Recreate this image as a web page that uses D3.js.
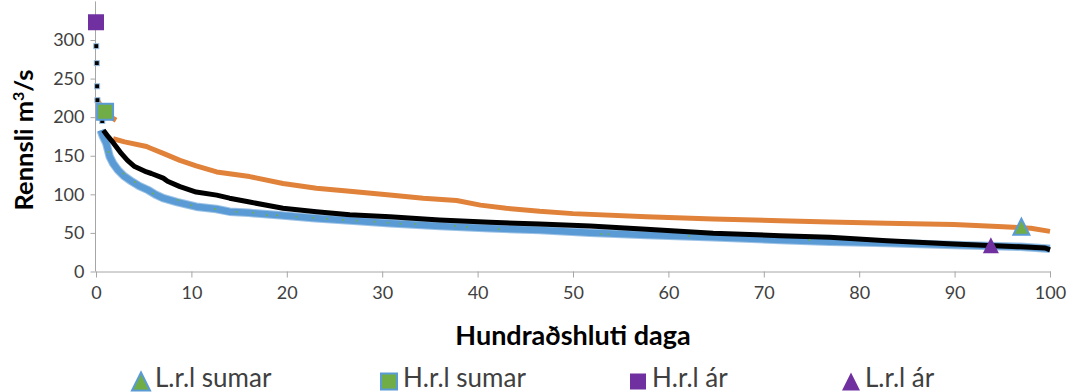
<!DOCTYPE html>
<html><head><meta charset="utf-8">
<script src="https://cdn.jsdelivr.net/npm/d3@7"></script>
<style>body{margin:0;background:#fff}svg{display:block}text{font-family:Lato,"Open Sans",sans-serif;fill:#404040}</style>
</head><body><svg id="c" width="1068" height="392"></svg>
<script>
// ---- data ----
const xTicks = [0,10,20,30,40,50,60,70,80,90,100];
const yTicks = [0,50,100,150,200,250,300];

// blue series (light blue, thick)
const blueX = [0.5,0.73,1.08,1.43,1.8,2.3,2.9,3.7,4.5,5.45,6.2,7.05,8.5,10.5,12.6,14,16,19.3,23,26.6,30.8,36,41.3,46.5,51.8,57.7,64.7,71.7,76.9,82.9,89.9,96.9,100];
const blueV = [183,175,166,149,140,131.5,124,117,111,105.6,100,95,90,84,81,77.5,76,73,69,66,62.5,59,56,53.8,50.3,47.3,44.3,40.8,38.6,37,34.5,32,29.5];

// black series
const blackX = [0.77,1.26,1.8,2.65,3.3,4.05,5.3,5.8,7.05,7.5,8.8,10.5,12.65,14,16.1,19.6,23.1,26.6,30.8,36,41.3,46.5,51.8,57.7,64.7,71.7,76.9,82.9,89.9,96.9,99.5,100];
const blackV = [183,175,167,153,144,136,129,127,121,117,110,103,99,95,90,82,77.5,73.5,71,66.7,63.7,61.5,59,54.7,49.5,46.4,44.3,40,35.6,32,30.5,28];

// black top points (drawn as separate markers)
const peakX = [0.03,0.08,0.12,0.15,0.66];
const peakV = [292,270,240,222,195];

// orange series (null = break)
const orangeX = [0.05,0.5,1.0,1.7,2.1,2.0,1.8,3.0,5.3,5.66,7.05,8.8,10.5,12.65,16.1,19.6,23.1,26.6,30.8,34.3,37.8,40.3,43,46.5,50,57.7,64.7,71.7,76.9,82.9,89.9,95.1,98,100];
const orangeV = [225,214,205,199,196,null,172,168,162,160,153,144,137,129,123,114,108,104,99,95,92,86,82,78,75,71,68,65.8,64.2,62.4,61,58,56,52];

// sparse green dots
const greenX = [1.3,2.9,4.1,6,8.6,10,12.5,14.7,16.5,17.9,19,21,22.8,24.2,25.9,27.3,29.2,30.6,31.9,33.5,37.6,38.9,42.2,53,53.7,62.2,74.8];
const greenV = [155,127,116,101,92.6,86,81,77.5,76,73,73,71,69.7,68.4,66.7,65.8,64.5,63.2,62,61.5,59,57.7,55,48.6,48.2,46,40.8];

// highlighted markers
const markerNames = ["L.r.l sumar","H.r.l sumar","H.r.l ár","L.r.l ár"];
const markerX = [97,0.95,0,93.8];
const markerV = [58,207,323,34];
const markerShape = ["triangle","square","square","triangle"];
const markerFill = ["#70AD47","#70AD47","#7030A0","#7030A0"];
const markerStroke = ["#5B9BD5","#5B9BD5","none","none"];

// ---- chart ----
const svg = d3.select("#c");
const x = d3.scaleLinear().domain([0,100]).range([96,1050]);
const y = d3.scaleLinear().domain([0,300]).range([271.5,40]);
const axisColor = "#A6A6A6";

// axes
const gy = svg.append("g").attr("transform","translate(95.5,0)")
  .call(d3.axisLeft(y).tickValues(yTicks).tickSize(5).tickPadding(6));
gy.select(".domain").remove();
gy.append("line").attr("x1",0).attr("x2",0).attr("y1",y(350)).attr("y2",y(0)).attr("stroke",axisColor);
gy.selectAll(".tick line").attr("stroke",axisColor);
gy.selectAll(".tick text").style("font-size","18px").attr("fill","#404040").style("font-family","Lato");

const gx = svg.append("g").attr("transform","translate(0,271.5)")
  .call(d3.axisBottom(x).tickValues(xTicks).tickSize(6).tickPadding(9));
gx.select(".domain").attr("stroke",axisColor).attr("d","M95.5,0.5H1051");
gx.selectAll(".tick line").attr("stroke",axisColor);
gx.selectAll(".tick text").style("font-size","18px").attr("fill","#404040").style("font-family","Lato");

// lines
const mk = (X,V)=>X.map((d,i)=>({x:d,v:V[i]}));
const line = d3.line().defined(d=>d.v!=null).x(d=>x(d.x)).y(d=>y(d.v));

svg.append("path").datum(mk(blueX,blueV)).attr("d",line).attr("fill","none")
  .attr("stroke","#9DC3E6").attr("stroke-width",8.5).attr("stroke-linejoin","round");
svg.append("path").datum(mk(blueX,blueV)).attr("d",line).attr("fill","none")
  .attr("stroke","#5B9BD5").attr("stroke-width",6.5).attr("stroke-linejoin","round");
svg.append("path").datum(mk(orangeX,orangeV)).attr("d",line).attr("fill","none")
  .attr("stroke","#E0823A").attr("stroke-width",5).attr("stroke-linejoin","round");
svg.append("path").datum(mk(blackX,blackV)).attr("d",line).attr("fill","none")
  .attr("stroke","#000").attr("stroke-width",5).attr("stroke-linejoin","round");

svg.selectAll("rect.peak").data(mk(peakX,peakV)).enter().append("rect").attr("class","peak")
  .attr("x",d=>x(d.x)-2.5).attr("y",d=>y(d.v)-2.5).attr("width",5).attr("height",5)
  .attr("fill","#000").attr("stroke","#9DC3E6").attr("stroke-width",1);

svg.selectAll("circle.g").data(mk(greenX,greenV)).enter().append("circle").attr("class","g")
  .attr("cx",d=>x(d.x)).attr("cy",d=>y(d.v)).attr("r",1).attr("fill","#70AD47");

// markers
function drawMarker(g,shape,cx,cy,size,fill,stroke){
  if(shape==="square"){
    g.append("rect").attr("x",cx-size/2).attr("y",cy-size/2).attr("width",size).attr("height",size)
      .attr("fill",fill).attr("stroke",stroke).attr("stroke-width",stroke==="none"?0:2);
  } else {
    const h=size;
    g.append("path").attr("d",`M${cx},${cy-h/2}L${cx+size/2},${cy+h/2}L${cx-size/2},${cy+h/2}Z`)
      .attr("fill",fill).attr("stroke",stroke).attr("stroke-width",stroke==="none"?0:2).attr("stroke-linejoin","miter");
  }
}
const mg = svg.append("g");
markerNames.forEach((n,i)=>{
  drawMarker(mg,markerShape[i],x(markerX[i]),y(markerV[i]),16,markerFill[i],markerStroke[i]);
});

// axis titles
const yt = svg.append("text").attr("transform","translate(33,140) rotate(-90)").attr("text-anchor","middle")
  .style("font-size","25.5px").style("font-weight","bold").style("fill","#000");
yt.append("tspan").text("Rennsli m");
yt.append("tspan").attr("baseline-shift","super").style("font-size","16px").text("3");
yt.append("tspan").text("/s");
svg.append("text").attr("x",573).attr("y",345).attr("text-anchor","middle")
  .style("font-size","27px").style("font-weight","bold").style("fill","#000").text("Hundraðshluti daga");

// legend
const legX = [141,389,638,851];
const lg = svg.append("g");
markerNames.forEach((n,i)=>{
  drawMarker(lg,markerShape[i],legX[i],381.5,markerShape[i]==="square"?16:18,markerFill[i],markerStroke[i]);
  lg.append("text").attr("x",legX[i]+14).attr("y",387).style("font-size","26px").style("fill","#404040").text(n);
});
</script></body></html>
